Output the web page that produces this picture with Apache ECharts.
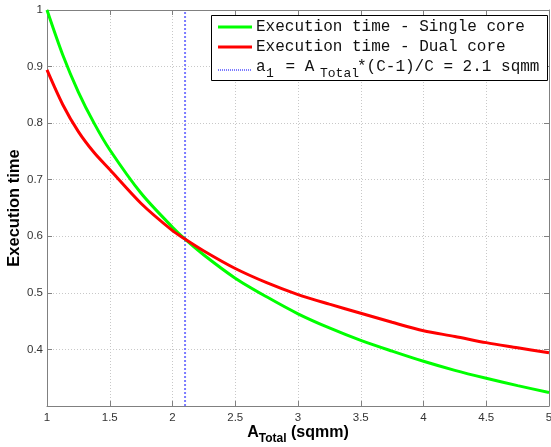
<!DOCTYPE html>
<html><head><meta charset="utf-8">
<script src="https://cdn.jsdelivr.net/npm/echarts@6/dist/echarts.min.js"></script>
<style>html,body{margin:0;padding:0;background:#fff}#c{width:551px;height:447px}</style>
</head><body><div id="c"></div>
<script>
const xVals = [1, 1.125, 1.25, 1.375, 1.5, 1.75, 2, 2.1, 2.25, 2.5, 2.75, 3, 3.25, 3.5, 3.75, 4, 4.25, 4.5, 4.75, 5];
const singleCore = [1.000, 0.921, 0.855, 0.800, 0.753, 0.676, 0.616, 0.595, 0.567, 0.526, 0.493, 0.463, 0.438, 0.416, 0.397, 0.379, 0.363, 0.349, 0.336, 0.324];
const dualCore = [0.894, 0.833, 0.785, 0.748, 0.718, 0.658, 0.610, 0.595, 0.574, 0.543, 0.518, 0.497, 0.480, 0.464, 0.448, 0.433, 0.423, 0.412, 0.403, 0.394];
const a1 = 2.1;
const xTicks = [1, 1.5, 2, 2.5, 3, 3.5, 4, 4.5, 5];
const yTicks = [0.4, 0.5, 0.6, 0.7, 0.8, 0.9, 1];
const xMin = 1, xMax = 5, yMin = 0.3, yMax = 1;

const chart = echarts.init(document.getElementById('c'));
const axisCol = '#808080';
const gridLine = {show: true, lineStyle: {color: '#c8c8c8', type: [1, 2], width: 1}};
const baseX = {type: 'value', min: xMin, max: xMax, interval: 0.5,
  axisLine: {show: true, onZero: false, lineStyle: {color: axisCol}},
  axisTick: {show: true, inside: true, length: 5, lineStyle: {color: axisCol}}};
const baseY = {type: 'value', min: yMin, max: yMax, interval: 0.1,
  axisLine: {show: true, onZero: false, lineStyle: {color: axisCol}},
  axisTick: {show: true, inside: true, length: 5, lineStyle: {color: axisCol}}};
const lab = {fontFamily: 'Liberation Sans', fontSize: 11.5, color: '#333'};
const mono = 'Liberation Mono';
const blue = '#7b7bff';

chart.setOption({
  animation: false,
  grid: {left: 47, right: 2, top: 10, bottom: 41, outerBoundsMode: 'none', containLabel: false},
  xAxis: [
    Object.assign({}, baseX, {position: 'bottom', splitLine: gridLine,
      axisLabel: Object.assign({margin: 6, formatter: v => xTicks.includes(+v.toFixed(2)) ? String(+v.toFixed(2)) : ''}, lab),
      name: '{a|A}{s|Total}{a| (sqmm)}', nameLocation: 'middle', nameGap: 15, nameMoveOverlap: false,
      nameTextStyle: {rich: {
        a: {fontFamily: 'Liberation Sans', fontSize: 16, fontWeight: 'bold', color: '#000'},
        s: {fontFamily: 'Liberation Sans', fontSize: 12, fontWeight: 'bold', color: '#000', padding: [12, 0, 0, 0]}
      }}}),
    Object.assign({}, baseX, {position: 'top', splitLine: {show: false}, axisLabel: {show: false}})
  ],
  yAxis: [
    Object.assign({}, baseY, {position: 'left', splitLine: gridLine,
      axisLabel: Object.assign({margin: 4, formatter: v => { const r = +v.toFixed(1); return yTicks.includes(r) ? String(r) : ''; }}, lab),
      name: 'Execution time', nameLocation: 'middle', nameGap: 24, nameMoveOverlap: false,
      nameTextStyle: {fontFamily: 'Liberation Sans', fontSize: 16.5, fontWeight: 'bold', color: '#000'}}),
    Object.assign({}, baseY, {position: 'right', splitLine: {show: false}, axisLabel: {show: false}})
  ],
  series: [
    {name: 'a1', type: 'line', data: [[a1, yMin], [a1, yMax]], symbol: 'none', z: 1,
      lineStyle: {color: blue, width: 2, type: 'dotted'}},
    {name: 'Execution time - Single core', type: 'line', smooth: 0.3, symbol: 'none', z: 3,
      data: xVals.map((x, i) => [x, singleCore[i]]), lineStyle: {color: '#00ff00', width: 3}},
    {name: 'Execution time - Dual core', type: 'line', smooth: 0.3, symbol: 'none', z: 4,
      data: xVals.map((x, i) => [x, dualCore[i]]), lineStyle: {color: '#ff0000', width: 3}}
  ],
  graphic: [
    {type: 'rect', shape: {x: 211.5, y: 15.5, width: 336, height: 65}, style: {fill: '#fff', stroke: '#000', lineWidth: 1}, z: 100},
    {type: 'line', shape: {x1: 218, y1: 27, x2: 252, y2: 27}, style: {stroke: '#00ff00', lineWidth: 3}, z: 101},
    {type: 'line', shape: {x1: 218, y1: 47, x2: 252, y2: 47}, style: {stroke: '#ff0000', lineWidth: 3}, z: 101},
    {type: 'line', shape: {x1: 218, y1: 70, x2: 251, y2: 70}, style: {stroke: blue, lineWidth: 2, lineDash: [1, 1]}, z: 101},
    {type: 'text', x: 256, y: 27, style: {text: 'Execution time - Single core', font: '16px ' + mono, fill: '#111', textVerticalAlign: 'middle'}, z: 101},
    {type: 'text', x: 256, y: 47, style: {text: 'Execution time - Dual core', font: '16px ' + mono, fill: '#111', textVerticalAlign: 'middle'}, z: 101},
    {type: 'text', x: 256, y: 67, style: {text: 'a', font: '16px ' + mono, fill: '#111', textVerticalAlign: 'middle'}, z: 101},
    {type: 'text', x: 266, y: 74, style: {text: '1', font: '13px ' + mono, fill: '#111', textVerticalAlign: 'middle'}, z: 101},
    {type: 'text', x: 276, y: 67, style: {text: ' = A', font: '16px ' + mono, fill: '#111', textVerticalAlign: 'middle'}, z: 101},
    {type: 'text', x: 320, y: 74, style: {text: 'Total', font: '13px ' + mono, fill: '#111', textVerticalAlign: 'middle'}, z: 101},
    {type: 'text', x: 357, y: 67, style: {text: '*(C-1)/C = 2.1 sqmm', font: '16px ' + mono, fill: '#111', textVerticalAlign: 'middle'}, z: 101}
  ]
});
</script></body></html>
